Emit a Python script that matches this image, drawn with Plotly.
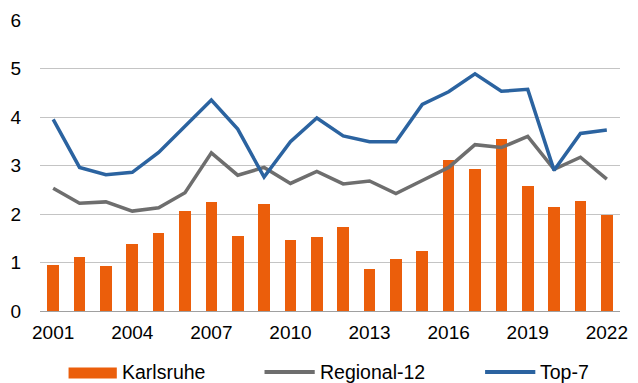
import plotly.graph_objects as go

# Annual figures, 2001-2022
years = list(range(2001, 2023))
karlsruhe = [0.95, 1.12, 0.92, 1.38, 1.60, 2.06, 2.24, 1.55, 2.21, 1.46, 1.53,
             1.74, 0.87, 1.07, 1.23, 3.11, 2.92, 3.55, 2.57, 2.14, 2.26, 1.98]
regional_12 = [2.53, 2.22, 2.25, 2.06, 2.13, 2.44, 3.26, 2.80, 2.96, 2.63, 2.88,
               2.62, 2.68, 2.42, 2.69, 2.96, 3.43, 3.37, 3.60, 2.92, 3.17, 2.72]
top_7 = [3.95, 2.96, 2.81, 2.86, 3.27, 3.81, 4.35, 3.75, 2.76, 3.49, 3.98,
         3.61, 3.49, 3.49, 4.26, 4.52, 4.89, 4.53, 4.57, 2.90, 3.66, 3.73]
x_ticks = [2001, 2004, 2007, 2010, 2013, 2016, 2019, 2022]
y_ticks = [0, 1, 2, 3, 4, 5, 6]

ORANGE = "#EB5E0B"
GREY = "#6E6E6E"
BLUE = "#2B63A0"
FONT = "Liberation Sans, Arial, sans-serif"

W, H = 638, 383
PL, PR, PT, PB = 39, 628, 18, 311  # plot area in pixels


def px(x):
    return (x - PL) / (PR - PL)


def py(y):
    return (PB - y) / (PB - PT)


fig = go.Figure()
fig.add_trace(go.Bar(x=years, y=karlsruhe, name="Karlsruhe",
                     marker=dict(color=ORANGE, line=dict(width=0)),
                     width=0.44, showlegend=False))
fig.add_trace(go.Scatter(x=years, y=regional_12, name="Regional-12", mode="lines",
                         line=dict(color=GREY, width=3.5), showlegend=False))
fig.add_trace(go.Scatter(x=years, y=top_7, name="Top-7", mode="lines",
                         line=dict(color=BLUE, width=3.5), showlegend=False))

# Legend drawn below the plot: symbol + label per series
legend_items = [
    ("rect", ORANGE, "Karlsruhe", 68, 117),
    ("line", GREY, "Regional-12", 267, 318),
    ("line", BLUE, "Top-7", 491, 542),
]
shapes = []
annotations = []
for kind, color, label, x0, x1 in legend_items:
    if kind == "rect":
        shapes.append(dict(type="rect", xref="paper", yref="paper",
                           x0=px(x0), x1=px(x1), y0=py(379), y1=py(368),
                           fillcolor=color, line=dict(width=0)))
    else:
        shapes.append(dict(type="line", xref="paper", yref="paper",
                           x0=px(x0), x1=px(x1), y0=py(372.5), y1=py(372.5),
                           line=dict(color=color, width=4)))
    annotations.append(dict(text=label, xref="paper", yref="paper",
                            x=px(x1 + 4), y=py(372.5),
                            xanchor="left", yanchor="middle", showarrow=False,
                            borderpad=0,
                            font=dict(family=FONT, size=19.5, color="#000000")))

fig.update_layout(
    width=W, height=H,
    margin=dict(l=PL, r=W - PR, t=PT, b=H - PB),
    paper_bgcolor="white", plot_bgcolor="white",
    font=dict(family=FONT, size=19, color="#000000"),
    shapes=shapes, annotations=annotations,
    bargap=0,
)
fig.update_xaxes(range=[2000.5, 2022.5], tickvals=x_ticks,
                 ticktext=[str(v) for v in x_ticks],
                 showgrid=False, zeroline=False, showline=False,
                 ticks="", ticklabelstandoff=8,
                 tickfont=dict(family=FONT, size=19))
fig.update_yaxes(range=[0, 6], tickvals=y_ticks,
                 showgrid=True, gridcolor="#C4C4C4", gridwidth=1.3,
                 zeroline=True, zerolinecolor="#A0A0A0", zerolinewidth=1.3,
                 showline=False, ticks="", ticklabelstandoff=18,
                 tickfont=dict(family=FONT, size=19))

fig.write_html("out.html")
